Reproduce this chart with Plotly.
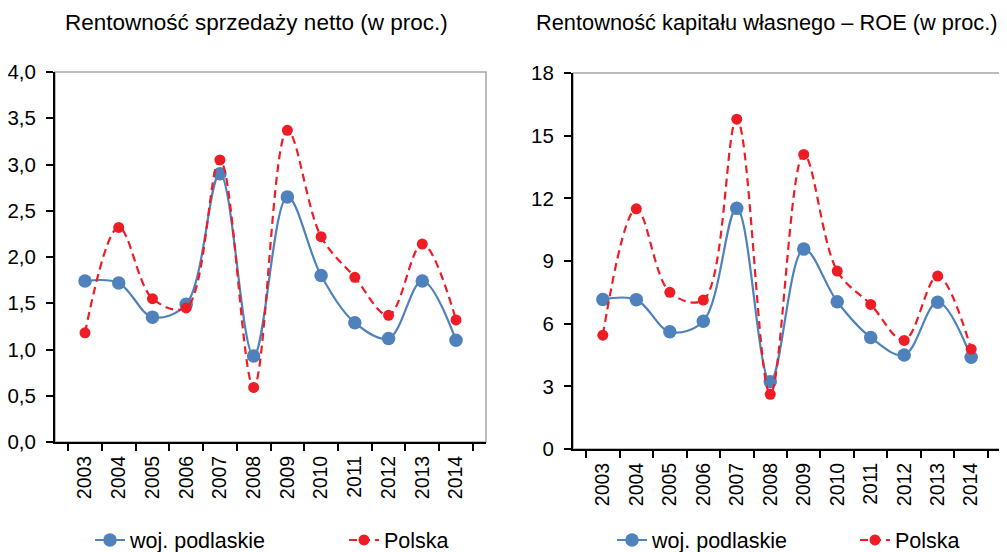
import plotly.graph_objects as go
from plotly.subplots import make_subplots

# data
lata = ["2003", "2004", "2005", "2006", "2007", "2008",
        "2009", "2010", "2011", "2012", "2013", "2014"]

# Rentownosc sprzedazy netto (w proc.)
sprzedaz_podlaskie = [1.74, 1.72, 1.35, 1.49, 2.90, 0.93, 2.65, 1.80, 1.29, 1.12, 1.74, 1.10]
sprzedaz_polska = [1.18, 2.32, 1.55, 1.45, 3.05, 0.59, 3.37, 2.22, 1.78, 1.37, 2.14, 1.32]

# ROE (w proc.)
roe_podlaskie = [7.16, 7.15, 5.61, 6.12, 11.52, 3.22, 9.57, 7.05, 5.34, 4.50, 7.03, 4.39]
roe_polska = [5.45, 11.50, 7.50, 7.13, 15.79, 2.62, 14.10, 8.52, 6.92, 5.20, 8.28, 4.78]

tytuly = ["Rentowność sprzedaży netto (w proc.)",
          "Rentowność kapitału własnego – ROE (w proc.)"]

BLUE = "#4f81bd"
RED = "#ee1c25"
FONT = "Liberation Sans, Arial, sans-serif"

# page body has an 8px margin, so the figure is laid out 8px up/left
W, H = 999, 560


def px(x):
    return x / W


def py(y):
    return (H - y) / H


fig = make_subplots(rows=1, cols=2)

# one legend per entry so each can be placed under its own chart
for col, (pod, pol), legs in [(1, (sprzedaz_podlaskie, sprzedaz_polska), ("legend", "legend2")),
                               (2, (roe_podlaskie, roe_polska), ("legend3", "legend4"))]:
    fig.add_trace(go.Scatter(x=lata, y=pod, name="woj. podlaskie", mode="lines+markers",
                             line=dict(color=BLUE, width=2.2, shape="spline"),
                             marker=dict(color=BLUE, size=13.5),
                             legend=legs[0]), row=1, col=col)
    fig.add_trace(go.Scatter(x=lata, y=pol, name="Polska", mode="lines+markers",
                             line=dict(color=RED, width=2.2, shape="spline", dash="8px,5px"),
                             marker=dict(color=RED, size=11),
                             legend=legs[1]), row=1, col=col)

fig.update_xaxes(type="category", tickson="boundaries", ticks="outside", ticklen=7,
                 tickcolor="black", tickwidth=1.5, showline=True, linecolor="black",
                 linewidth=2, showgrid=False, tickangle=-90, ticklabelstandoff=4,
                 automargin=False,
                 tickfont=dict(size=19.5, color="black", family=FONT))
fig.update_yaxes(ticks="outside", ticklen=7, tickcolor="black", tickwidth=1.5,
                 showline=True, linecolor="black", linewidth=2, showgrid=False,
                 zeroline=False, ticklabelstandoff=6, automargin=False,
                 tickfont=dict(size=20.5, color="black", family=FONT))

fig.update_layout(
    xaxis=dict(domain=[px(47), px(478)]),
    yaxis=dict(domain=[py(434), py(64)], range=[0, 4], dtick=0.5, tickformat=".1f"),
    xaxis2=dict(domain=[px(565), px(993)]),
    yaxis2=dict(domain=[py(441), py(65)], range=[0, 18], dtick=3, tickformat="d"),
)

# gray frame on top/right of each plot area
for xr, yr in [("x domain", "y domain"), ("x2 domain", "y2 domain")]:
    fig.add_shape(type="rect", xref=xr, yref=yr, x0=0, x1=1, y0=0, y1=1,
                  line=dict(color="#a6a6a6", width=1.5), layer="below")

for tx, t, fs in zip([55, 526], tytuly, [22.5, 21.8]):
    fig.add_annotation(text=t, xref="paper", yref="paper", x=px(tx), y=py(14),
                       xanchor="left", yanchor="middle", showarrow=False,
                       font=dict(size=fs, color="black", family=FONT))

legend_style = dict(orientation="h", yref="paper", y=py(532), yanchor="middle",
                    xanchor="left", font=dict(size=21.5, color="black", family=FONT),
                    bgcolor="rgba(0,0,0,0)")
fig.update_layout(
    showlegend=True,
    legend=dict(x=px(82), **legend_style),
    legend2=dict(x=px(336), **legend_style),
    legend3=dict(x=px(604), **legend_style),
    legend4=dict(x=px(847), **legend_style),
    width=W, height=H,
    margin=dict(l=0, r=0, t=0, b=0),
    plot_bgcolor="white", paper_bgcolor="white",
    separators=", ",
    font=dict(family=FONT, color="black"),
)

fig.write_html("out.html")
